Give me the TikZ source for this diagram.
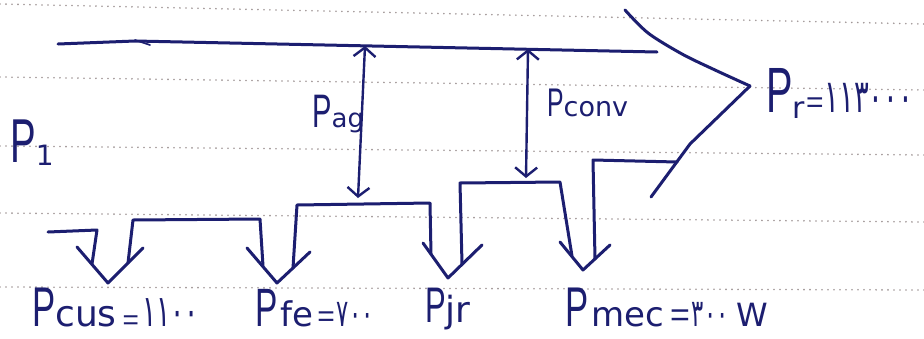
\documentclass[tikz,border=0pt]{standalone}
\usepackage{fontspec}
\setmainfont{DejaVu Sans}
\newfontfamily\bigpfont[FakeStretch=0.62]{Liberation Sans}
\newfontfamily\eqfont{Liberation Sans}
\newfontfamily\fadigits[Script=Arabic,FakeStretch=0.6]{DejaVu Sans}
\usetikzlibrary{arrows.meta}

\definecolor{inkblue}{RGB}{28,30,112}
\definecolor{rulegray}{RGB}{160,150,150}

% handwritten-style label parts
\newcommand\Pbig[2]{{\bigpfont\fontsize{#1}{#1}\selectfont #2}}
\newcommand\Tsub[2]{{\fontsize{#1}{#1}\selectfont #2}}
\newcommand\Eq[1]{{\eqfont\fontsize{#1}{#1}\selectfont =}}
\newcommand\Fnum[2]{{\fadigits\fontsize{#1}{#1}\selectfont #2}}

\begin{document}
\begin{tikzpicture}[x=1pt,y=-1pt,
  ink/.style={draw=inkblue,line width=3pt,line cap=round,line join=round},
  thinink/.style={draw=inkblue,line width=2.4pt,line cap=round,line join=round},
  flow/.style={thinink,{Straight Barb[length=9pt,width=22pt]}-{Straight Barb[length=9pt,width=22pt]}},
  rule/.style={draw=rulegray,line width=1.8pt,line cap=round,dash pattern=on 0pt off 6pt},
  lbl/.style={text=inkblue,inner sep=0pt,anchor=base west}]

\fill[white] (0,0) rectangle (924,338);
\useasboundingbox (0,0) rectangle (924,338);

% ruled notebook lines
\draw[rule] (0,4) -- (924,24);
\draw[rule] (0,77) -- (924,90);
\draw[rule] (0,146) -- (924,155);
\draw[rule] (0,213) -- (924,222);
\draw[rule] (0,287) -- (924,290);

% main power line and output arrow
\coordinate (inL) at (58,44);
\coordinate (inM) at (135,41);
\coordinate (inR) at (657,52);
\coordinate (agTop) at (365,46);
\coordinate (convTop) at (528,49);
\coordinate (hdA) at (625,10);
\coordinate (hdB) at (648,33);
\coordinate (hdC) at (682,54);
\coordinate (tipR) at (750,86);
\coordinate (kink) at (690,144);
\coordinate (hdEnd) at (651,197);
\coordinate (outB) at (677,162);

\draw[ink] (inL) -- (inM) -- (inR);
\draw[thinink,line width=1.6pt] (135,40) -- (150,45);
\draw[ink] plot[smooth] coordinates {(hdA) (hdB) (hdC) (715,70) (tipR)};
\draw[ink] (tipR) -- (kink) -- (hdEnd);

% branch boxes
\coordinate (A1) at (133,220);  \coordinate (A2) at (260,219);
\coordinate (A1b) at (128,263); \coordinate (A2b) at (263,266);
\coordinate (B1) at (297,205);  \coordinate (B2) at (430,203);
\coordinate (B1b) at (293,268); \coordinate (B2b) at (431,254);
\coordinate (C1) at (460,183);  \coordinate (C2) at (560,182);
\coordinate (C1b) at (462,264); \coordinate (C2b) at (572,256);
\coordinate (D1) at (593,160);  \coordinate (D1b) at (595,259);
\coordinate (F0) at (48,232);   \coordinate (F1) at (97,230);
\coordinate (F1b) at (92,264);

\draw[ink] (F0) -- (F1) -- (F1b);
\draw[ink] (A1b) -- (A1) -- (A2) -- (A2b);
\draw[ink] (B1b) -- (B1) -- (B2) -- (B2b);
\draw[ink] (C1b) -- (C1) -- (C2) -- (C2b);
\draw[ink] (outB) -- (D1) -- (D1b);

% loss arrowheads
\draw[ink] (77,247) -- (108,283) -- (143,248);
\draw[ink] (247,248) -- (277,283) -- (310,252);
\draw[ink] (423,243) -- (448,278) -- (482,245);
\draw[ink] (560,242) -- (583,270) -- (610,245);

% air-gap and converted power arrows
\coordinate (agBot) at (358,198);
\coordinate (convBot) at (526,178);
\draw[flow] (agTop) -- (agBot);
\draw[flow] (convTop) -- (convBot);

% labels
\node[lbl] (P1) at (10,162) {\Pbig{62}{P}\raisebox{-3pt}{\Tsub{28}{1}}};
\node[lbl] (Pag) at (312,127) {\Pbig{47}{P}\Tsub{26}{ag}};
\node[lbl] (Pconv) at (547,116) {\Pbig{40}{P}\Tsub{27}{conv}};
\node[lbl] (Pr) at (766,112) {\Pbig{64}{P}\raisebox{-6pt}{\Tsub{30}{r}}\kern1pt\Eq{30}\kern1pt\Fnum{46}{۱۱۳۰۰۰}};
\node[lbl] (Pcus) at (32,326) {\Pbig{56}{P}\Tsub{36}{cus}\kern6pt\raisebox{-3pt}{\Eq{28}}\kern3pt\Fnum{44}{۱۱۰۰}};
\node[lbl] (Pfe) at (255,326) {\Pbig{54}{P}\kern3pt\Tsub{34}{fe}\kern4pt\Eq{30}\kern2pt\Fnum{38}{۷۰۰}};
\node[lbl] (Pjr) at (425,322) {\Pbig{50}{P}\Tsub{36}{jr}};
\node[lbl] (Pmec) at (565,326) {\Pbig{56}{P}\kern3pt\Tsub{34}{mec}\kern6pt\Eq{34}\kern2pt\Fnum{38}{۳۰۰}\kern8pt\Tsub{32}{W}};

\end{tikzpicture}
\end{document}
